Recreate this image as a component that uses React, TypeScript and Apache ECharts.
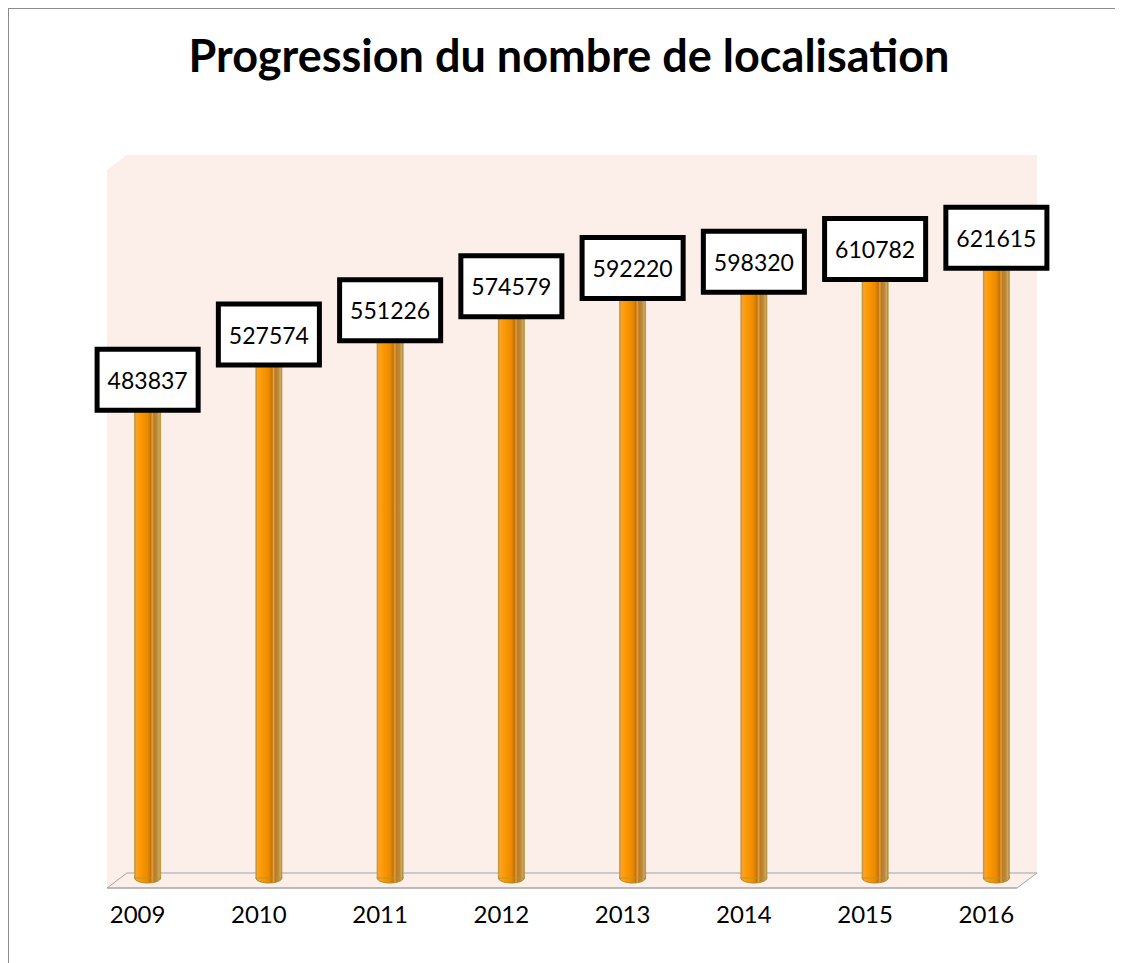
import React, { useEffect, useRef } from "react";
import * as echarts from "echarts";

const years = ["2009", "2010", "2011", "2012", "2013", "2014", "2015", "2016"];
const counts = [483837, 527574, 551226, 574579, 592220, 598320, 610782, 621615];
const titleText = "Progression du nombre de localisation";

const FONT = "Lato, 'Open Sans', sans-serif";
const PINK = "#FCEEE9";

export default function App() {
  const ref = useRef<HTMLDivElement>(null);
  useEffect(() => {
    if (!ref.current) return;
    const prevOverflow = document.body.style.overflow;
    document.body.style.overflow = "hidden";
    const chart = echarts.init(ref.current, null, { renderer: "svg" });
    const barGrad = new echarts.graphic.LinearGradient(0, 0, 1, 0, [
      { offset: 0, color: "#C8902A" },
      { offset: 0.06, color: "#F7A233" },
      { offset: 0.2, color: "#FF9A00" },
      { offset: 0.5, color: "#E98A02" },
      { offset: 0.62, color: "#C77205" },
      { offset: 0.68, color: "#DDA050" },
      { offset: 0.74, color: "#C27A14" },
      { offset: 0.86, color: "#B88A40" },
      { offset: 0.94, color: "#D2A764" },
      { offset: 1, color: "#A4842A" },
    ]);
    chart.setOption({
      animation: false,
      graphic: [
        { type: "polygon", z: 0, shape: { points: [[98, 161], [118, 146], [118, 864], [98, 879]] }, style: { fill: PINK } },
        { type: "rect", z: 0, shape: { x: 118, y: 146, width: 910, height: 718 }, style: { fill: PINK } },
        { type: "polygon", z: 0, shape: { points: [[98, 879], [118, 864], [1028, 864], [1008, 879]] }, style: { fill: PINK } },
        { type: "line", z: 1, shape: { x1: 118, y1: 864, x2: 1028, y2: 864 }, style: { stroke: "#BDBDBD", lineWidth: 1.5 } },
        { type: "line", z: 1, shape: { x1: 98, y1: 879, x2: 1008, y2: 879 }, style: { stroke: "#A6A6A6", lineWidth: 1.5 } },
        { type: "line", z: 1, shape: { x1: 98, y1: 879, x2: 118, y2: 864 }, style: { stroke: "#A6A6A6", lineWidth: 1 } },
        { type: "line", z: 1, shape: { x1: 1008, y1: 879, x2: 1028, y2: 864 }, style: { stroke: "#A6A6A6", lineWidth: 1 } },
        {
          type: "text",
          z: 10,
          x: 560,
          y: 46,
          style: {
            text: titleText,
            fontSize: 45,
            fontWeight: "bold",
            fontFamily: FONT,
            fill: "#000",
            align: "center",
            verticalAlign: "middle",
          },
        },
      ],
      grid: { left: 78, width: 970, top: 148, height: 721 },
      xAxis: {
        type: "category",
        data: years,
        axisLine: { show: false },
        axisTick: { show: false },
        axisLabel: {
          fontSize: 24,
          fontFamily: FONT,
          color: "#000",
          margin: 23,
          padding: [0, 20, 0, 0],
        },
      },
      yAxis: {
        type: "value",
        min: 0,
        max: 700000,
        show: false,
        splitLine: { show: false },
      },
      series: [
        {
          type: "custom",
          z: 3,
          data: counts.map((v, i) => [i, v]),
          renderItem: (params: any, api: any) => {
            const top = api.coord([api.value(0), api.value(1)]);
            const base = api.coord([api.value(0), 0]);
            const w = 26;
            const cx = top[0];
            return {
              type: "group",
              children: [
                {
                  type: "ellipse",
                  shape: { cx, cy: base[1], rx: w / 2, ry: 5 },
                  style: { fill: barGrad, stroke: "#A8902E", lineWidth: 1 },
                },
                {
                  type: "rect",
                  shape: { x: cx - w / 2, y: top[1], width: w, height: base[1] - top[1] },
                  style: { fill: barGrad, stroke: "#B8962E", lineWidth: 0.8 },
                },
              ],
            };
          },
        },
        {
          type: "scatter",
          z: 5,
          symbolSize: 1,
          itemStyle: { color: "rgba(0,0,0,0)", opacity: 1 },
          emphasis: { disabled: true },
          data: counts.map((v, i) => [i, v]),
          label: {
            show: true,
            position: "inside",
            formatter: (p: any) => String(counts[p.dataIndex]),
            fontSize: 23,
            fontFamily: FONT,
            color: "#000",
            opacity: 1,
            backgroundColor: "#fff",
            borderColor: "#000",
            borderWidth: 5,
            padding: [16, 8],
            lineHeight: 24,
          },
        },
      ],
    });
    return () => {
      chart.dispose();
      document.body.style.overflow = prevOverflow;
    };
  }, []);
  return (
    <div
      ref={ref}
      style={{
        width: 1200,
        height: 1000,
        borderTop: "1px solid #8C8C8C",
        borderLeft: "1px solid #8C8C8C",
        background: "#fff",
      }}
    />
  );
}
